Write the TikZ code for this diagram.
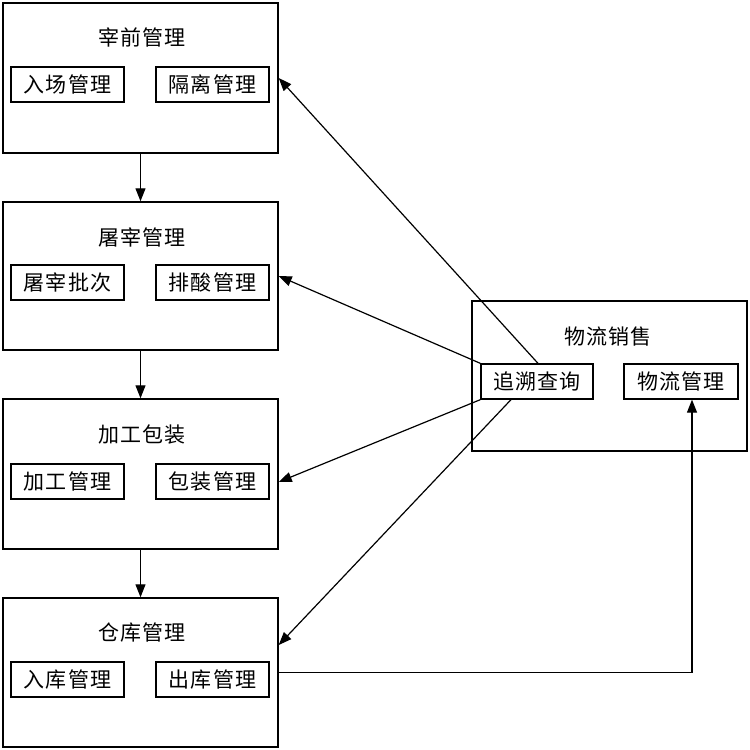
\documentclass[tikz,border=0pt]{standalone}
\usepackage{fontspec}
\newfontfamily\cjk[LetterSpace=6]{Noto Sans CJK SC}
\usetikzlibrary{arrows.meta,calc}
\tikzset{
  outerbox/.style={draw, line width=1.4pt, minimum width=275pt, minimum height=150pt, inner sep=0pt},
  innerbox/.style={draw, line width=1.3pt, minimum width=113pt, minimum height=35pt, inner sep=0pt, font=\cjk\fontsize{21}{24}\selectfont},
  titletext/.style={inner sep=0pt, font=\cjk\fontsize{21}{24}\selectfont},
  conn/.style={line width=1.2pt, -{Triangle[length=13pt,width=10pt]}},
}
\begin{document}
\begin{tikzpicture}[x=1pt,y=-1pt]
\useasboundingbox (0,0) rectangle (750,750);
% left column
\node[outerbox] (b1) at (140.5,78) {};
\node[outerbox, minimum height=148pt] (b2) at (140.5,276) {};
\node[outerbox] (b3) at (140.5,474) {};
\node[outerbox, minimum height=149pt] (b4) at (140.5,672.5) {};
\node[titletext] (t1) at (142,37) {宰前管理};
\node[titletext] (t2) at (142,237) {屠宰管理};
\node[titletext] (t3) at (142,435) {加工包装};
\node[titletext] (t4) at (142,633) {仓库管理};
\node[innerbox] (i11) at (67.5,84.5) {入场管理};
\node[innerbox] (i12) at (212.5,84.5) {隔离管理};
\node[innerbox] (i21) at (67.5,282.5) {屠宰批次};
\node[innerbox] (i22) at (212.5,282.5) {排酸管理};
\node[innerbox] (i31) at (67.5,481.5) {加工管理};
\node[innerbox] (i32) at (212.5,481.5) {包装管理};
\node[innerbox] (i41) at (67.5,679.5) {入库管理};
\node[innerbox] (i42) at (212.5,679.5) {出库管理};
% right box
\node[outerbox] (rb) at (609.5,376) {};
\node[titletext] (rt) at (608,337) {物流销售};
\node[innerbox, minimum width=112pt] (trace) at (537,381.5) {追溯查询};
\node[innerbox, minimum width=114pt] (logi) at (681,381.5) {物流管理};
% vertical arrows
\draw[conn] (b1.south) -- (b2.north);
\draw[conn] (b2.south) -- (b3.north);
\draw[conn] (b3.south) -- (b4.north);
% trace arrows
\draw[conn] ([xshift=1pt]trace.north) -- (b1.east);
\draw[conn] (trace.north west) -- (b2.east);
\draw[conn] (trace.south west) -- ([yshift=-8pt]b3.east);
\draw[conn] ([xshift=-26pt]trace.south) -- ([yshift=27.5pt]b4.east);
% logistics
\draw[conn] (b4.east) -| ([xshift=11pt]logi.south);
\end{tikzpicture}
\end{document}
